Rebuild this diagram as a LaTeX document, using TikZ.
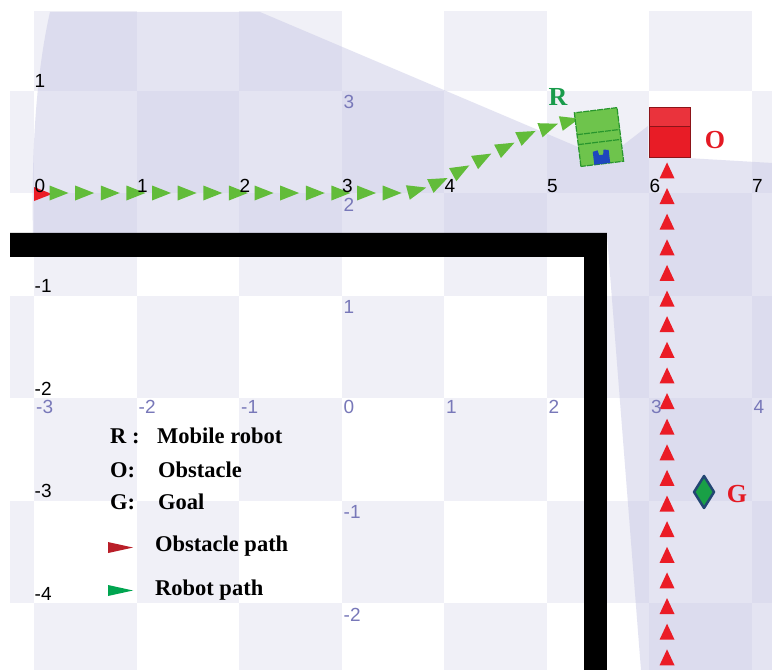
\documentclass[tikz,border=0pt]{standalone}
\usepackage{fontspec}
\setmainfont{Liberation Serif}
\setsansfont{Liberation Sans}

\definecolor{cellgray}{RGB}{240,240,247}
\definecolor{fovblue}{RGB}{196,196,228}
\definecolor{gridblue}{RGB}{120,120,185}
\definecolor{pathgreen}{RGB}{98,188,58}
\definecolor{pathred}{RGB}{235,28,38}
\definecolor{robotgreen}{RGB}{110,196,76}
\definecolor{robotedge}{RGB}{40,150,45}
\definecolor{robotblue}{RGB}{30,70,190}
\definecolor{obsred}{RGB}{232,28,38}
\definecolor{obsedge}{RGB}{140,20,25}
\definecolor{goalgreen}{RGB}{25,160,70}
\definecolor{goaledge}{RGB}{35,70,115}
\definecolor{tagred}{RGB}{228,25,35}
\definecolor{taggreen}{RGB}{25,155,75}
\definecolor{legred}{RGB}{185,30,40}
\definecolor{leggreen}{RGB}{0,165,80}

\begin{document}
\begin{tikzpicture}[x=102.5pt, y=102.5pt,
  gridlab/.style={font=\sffamily\fontsize{19}{19}\selectfont, inner sep=0.5pt},
  gridlabb/.style={gridlab, text=gridblue, inner sep=0pt},
  letter/.style={font=\bfseries\fontsize{26}{26}\selectfont, inner sep=0pt},
  legtext/.style={font=\bfseries\fontsize{22.5}{22.5}\selectfont, anchor=base west, inner sep=0pt}]
\useasboundingbox (-34pt,-477pt) rectangle (738pt,193pt);
\fill[white] (-34pt,-477pt) rectangle (738pt,193pt);

% checker floor
\begin{scope}
\clip (-0.234,-4.654) rectangle (7.2,1.766);
\foreach \c in {-1,...,7}
  \foreach \r in {-5,...,1} {
    \pgfmathparse{int(mod(\c+\r+20,2))}
    \ifnum\pgfmathresult=1 \fill[cellgray] (\c,\r) rectangle ++(1,1); \fi
  }
\end{scope}

% visible area of the sensor
\fill[fovblue, fill opacity=0.45] (0.156,1.766) -- (2.205,1.766) -- (5.376,0.420)
  -- (5.737,0.459) -- (5.990,0.654) -- (5.990,0.341) -- (6.380,0.341)
  -- (7.2,0.293) -- (7.2,-4.654) -- (5.922,-4.654) -- (5.590,-0.410)
  -- (-0.010,-0.410) .. controls (-0.03,0.6) and (0.05,1.3) .. (0.156,1.766) -- cycle;

% wall
\fill[black] (-0.234,-0.390) -- (5.590,-0.390) -- (5.590,-4.654) -- (5.366,-4.654)
  -- (5.366,-0.624) -- (-0.234,-0.624) -- cycle;

% start of obstacle
\fill[pathred] (0.088,-0.01) +(-9pt,-7pt) -- +(9pt,0) -- +(-9pt,7pt) -- cycle;

% robot path
\foreach \i in {0,...,13}
  \fill[pathgreen] ({0.244+0.25*\i},0) +(-9.5pt,-7.5pt) -- +(9.5pt,0) -- +(-9.5pt,7.5pt) -- cycle;
\foreach \x/\y/\a in {3.737/0.029/15, 3.951/0.107/25, 4.166/0.224/29, 4.380/0.341/28,
    4.605/0.449/27, 4.810/0.566/25, 5.024/0.644/20, 5.229/0.702/15}
  \fill[pathgreen, shift={(\x,\y)}, rotate=\a] (-9.5pt,-7.5pt) -- (9.5pt,0) -- (-9.5pt,7.5pt) -- cycle;

% obstacle path
\foreach \i in {0,...,19}
  \fill[pathred] (6.176,{0.22-0.25*\i}) +(-7.5pt,-8pt) -- +(0,8pt) -- +(7.5pt,-8pt) -- cycle;

% robot
\begin{scope}[shift={(5.512,0.546)}, rotate=7]
\filldraw[fill=robotgreen, draw=robotedge, line width=1.2pt, dash pattern=on 6pt off 1pt]
  (-21.5pt,-27pt) rectangle (21.5pt,27pt);
\draw[robotedge, line width=1.2pt, dash pattern=on 6pt off 1pt]
  (-21.5pt,5pt) -- (21.5pt,5pt) (-21.5pt,-5pt) -- (21.5pt,-5pt);
\fill[robotblue] (-8pt,-27pt) -- (-8pt,-14pt) -- (-3pt,-13pt) -- (-2pt,-18pt) -- (2pt,-18pt)
  -- (3pt,-13pt) -- (8pt,-14pt) -- (8pt,-27pt) -- cycle;
\end{scope}

% obstacle
\fill[obsred!90!white] (6.0,0.644) rectangle (6.4,0.839);
\fill[obsred] (6.0,0.342) rectangle (6.4,0.644);
\draw[obsedge, line width=1pt] (6.0,0.342) rectangle (6.4,0.839) (6.0,0.644) -- (6.4,0.644);

% goal
\filldraw[fill=goalgreen, draw=goaledge, line width=2.5pt, line join=round]
  (6.537,-2.917) +(0,16pt) -- +(10pt,0) -- +(0,-16pt) -- +(-10pt,0) -- cycle;

% grid numbers
\foreach \x in {0,...,7}
  \node[gridlab, anchor=south west] (bx\x) at (\x,0) {\x};
\foreach \y in {1,-1,-2,-3,-4}
  \node[gridlab, anchor=south west, yshift=2pt] (by\y) at (0,\y) {\y};
\foreach \x [evaluate=\x as \v using int(\x-3)] in {0,...,7}
  \node[gridlabb, anchor=north west, xshift=2pt, yshift=-2.5pt] (gx\x) at (\x,-2) {\v};
\foreach \y/\t in {1/3,0/2,-1/1,-3/-1,-4/-2}
  \node[gridlabb, anchor=north west, xshift=2pt, yshift=-5pt] (gy\t) at (3,\y) {\t};

% tags
\node[letter, text=taggreen] (tagR) at (5.112,0.941) {R};
\node[letter, text=tagred] (tagO) at (6.644,0.517) {O};
\node[letter, text=tagred] (tagG) at (6.859,-2.932) {G};

% legend
\node[legtext] (keyR) at (0.741,-2.439) {R :};
\node[legtext] (txtR) at (1.20,-2.439) {Mobile robot};
\node[legtext] (keyO) at (0.741,-2.771) {O:};
\node[legtext] (txtO) at (1.21,-2.771) {Obstacle};
\node[legtext] (keyG) at (0.741,-3.083) {G:};
\node[legtext] (txtG) at (1.21,-3.083) {Goal};
\fill[legred] (0.844,-3.459) +(-12.5pt,-5.5pt) -- +(12.5pt,0) -- +(-12.5pt,5.5pt) -- cycle;
\node[legtext] (txtOP) at (1.18,-3.502) {Obstacle path};
\fill[leggreen] (0.844,-3.878) +(-12.5pt,-5.5pt) -- +(12.5pt,0) -- +(-12.5pt,5.5pt) -- cycle;
\node[legtext] (txtRP) at (1.18,-3.922) {Robot path};
\end{tikzpicture}
\end{document}
